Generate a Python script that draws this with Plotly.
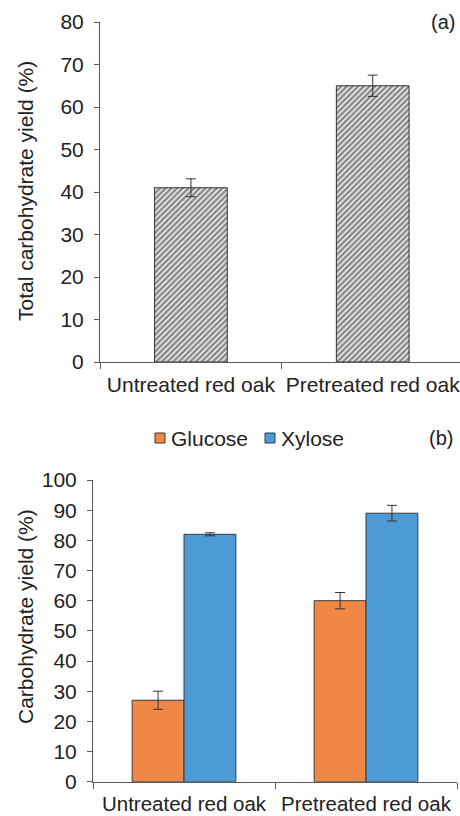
import plotly.graph_objects as go

categories = ["Untreated red oak", "Pretreated red oak"]

# Panel (a)
total_yield = [41, 65]
total_err = [2.1, 2.5]

# Panel (b)
series_names = ["Glucose", "Xylose"]
glucose = [27, 60]
glucose_err = [3.0, 2.7]
xylose = [82, 89]
xylose_err = [0.5, 2.6]

FONT = "Liberation Sans, Arial, sans-serif"
TXT = "#222222"
AX = "#5a5a5a"
ORANGE = "#EF8845"
BLUE = "#4D9BD6"

fig = go.Figure()

fig.add_trace(go.Bar(
    x=categories, y=total_yield, xaxis="x", yaxis="y", width=0.40,
    showlegend=False,
    marker=dict(color="white", line=dict(color="#333333", width=1),
                pattern=dict(shape="/", fgcolor="#111111", bgcolor="white",
                             size=4, solidity=0.65)),
    error_y=dict(type="data", array=total_err, color="#333333", thickness=1, width=5),
))

fig.add_trace(go.Bar(
    name=series_names[0], x=categories, y=glucose, xaxis="x2", yaxis="y2",
    showlegend=False,
    marker=dict(color=ORANGE, line=dict(color="#3a3a3a", width=1)),
    error_y=dict(type="data", array=glucose_err, color="#333333", thickness=1, width=5),
))
fig.add_trace(go.Bar(
    name=series_names[1], x=categories, y=xylose, xaxis="x2", yaxis="y2",
    showlegend=False,
    marker=dict(color=BLUE, line=dict(color="#3a3a3a", width=1)),
    error_y=dict(type="data", array=xylose_err, color="#333333", thickness=1, width=5),
))

W, H = 460, 816

def xd(a, b):
    return [a / W, b / W]

def yd(top, bottom):
    return [1 - bottom / H, 1 - top / H]

def px(x):
    return x / W

def py(y):
    return 1 - y / H

line_common = dict(showgrid=False, zeroline=False, showline=True, linecolor=AX,
                   linewidth=1, tickcolor=AX, ticks="outside", automargin=False,
                   tickangle=0)
ytick_font = dict(family=FONT, size=21, color=TXT)
xtick_font = dict(family=FONT, size=21, color=TXT)

# manual legend (key squares + labels)
legend_keys = [(155, ORANGE, series_names[0]), (265, BLUE, series_names[1])]
shapes = []
annotations = []
for x0, col, name in legend_keys:
    shapes.append(dict(type="rect", xref="paper", yref="paper",
                       x0=px(x0), x1=px(x0 + 10), y0=py(443), y1=py(433),
                       fillcolor=col, line=dict(color="#3a3a3a", width=1)))
    annotations.append(dict(text=name, xref="paper", yref="paper",
                            x=px(x0 + 14), y=py(438), xanchor="left",
                            yanchor="middle", showarrow=False,
                            font=dict(family=FONT, size=21, color=TXT)))

annotations += [
    dict(text="Total carbohydrate yield (%)", xref="paper", yref="paper",
         x=px(25), y=py(191), textangle=-90, showarrow=False,
         xanchor="center", yanchor="middle",
         font=dict(family=FONT, size=21, color=TXT)),
    dict(text="Carbohydrate yield (%)", xref="paper", yref="paper",
         x=px(25), y=py(617), textangle=-90, showarrow=False,
         xanchor="center", yanchor="middle",
         font=dict(family=FONT, size=21, color=TXT)),
    dict(text="(a)", xref="paper", yref="paper", x=px(443), y=py(22),
         showarrow=False, xanchor="center", yanchor="middle",
         font=dict(family=FONT, size=20, color=TXT)),
    dict(text="(b)", xref="paper", yref="paper", x=px(441), y=py(438),
         showarrow=False, xanchor="center", yanchor="middle",
         font=dict(family=FONT, size=20, color=TXT)),
]

fig.update_layout(
    width=W, height=H,
    margin=dict(l=0, r=0, t=0, b=0, autoexpand=False),
    paper_bgcolor="white", plot_bgcolor="white",
    barmode="group", bargap=0.43, bargroupgap=0,
    font=dict(family=FONT, color=TXT),
    showlegend=False,
    xaxis=dict(domain=[100 / W, 1.0], anchor="y", type="category",
               range=[-0.5, 1.48], tickson="boundaries", ticklen=6,
               ticklabelstandoff=4, tickfont=xtick_font, **line_common),
    yaxis=dict(domain=yd(22, 362), anchor="x", range=[0, 80], dtick=10,
               ticklen=5, ticklabelstandoff=6, tickfont=ytick_font, **line_common),
    xaxis2=dict(domain=xd(93, 457), anchor="y2", type="category",
                range=[-0.5, 1.5], tickson="boundaries", ticklen=6,
                ticklabelstandoff=4, tickfont=dict(family=FONT, size=20.5, color=TXT),
                **line_common),
    yaxis2=dict(domain=yd(480, 781.7), anchor="x2", range=[0, 100], dtick=10,
                ticklen=5, ticklabelstandoff=6, tickfont=ytick_font, **line_common),
    shapes=shapes,
    annotations=annotations,
)

fig.write_html("out.html", config={"displayModeBar": False},
               post_script="document.body.style.margin='0';document.body.style.overflow='hidden';")
